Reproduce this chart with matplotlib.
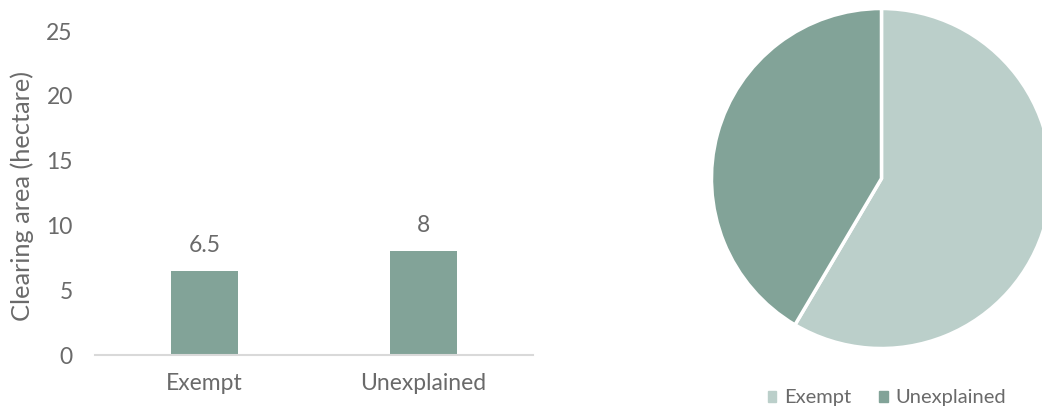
import matplotlib.pyplot as plt
from matplotlib.patches import Patch

plt.rcParams['font.family'] = ['Lato', 'DejaVu Sans']

# bar data: clearing area by category
categories = ['Exempt', 'Unexplained']
area_ha = [6.5, 8]

# pie data: share of clearing by category (percent)
pie_labels = ['Exempt', 'Unexplained']
pie_share = [58.5, 41.5]

text_color = '#6a6a6a'
bar_color = '#82A398'
pie_colors = ['#BBCFCA', '#82A398']

fig = plt.figure(figsize=(10.42, 4.09), dpi=100)

# left: bar chart
ax = fig.add_axes([0.0912, 0.132, 0.4203, 0.792])
x = range(len(categories))
bars = ax.bar(x, area_ha, width=0.31, color=bar_color, zorder=2)
for xi, v in zip(x, area_ha):
    ax.annotate(f'{v:g}', (xi, v), xytext=(0, 11), textcoords='offset points',
                ha='center', va='bottom', fontsize=16.5, color=text_color)

ax.set_xlim(-0.5, 1.5)
ax.set_ylim(0, 25)
ax.set_yticks([0, 5, 10, 15, 20, 25])
ax.set_xticks(list(x))
ax.set_xticklabels(categories)
ax.tick_params(axis='both', length=0, labelsize=16.5, labelcolor=text_color)
ax.tick_params(axis='y', pad=16)
ax.tick_params(axis='x', pad=13)
for side in ['top', 'right', 'left']:
    ax.spines[side].set_visible(False)
ax.spines['bottom'].set_color('#D9D9D9')
ax.spines['bottom'].set_linewidth(1.5)
fig.text(0.021, 0.52, 'Clearing area (hectare)', rotation=90,
         ha='center', va='center', fontsize=18.3, color=text_color)

# right: pie chart
pax = fig.add_axes([0.6828, 0.1479, 0.3263, 0.8313])
pax.pie(pie_share, colors=pie_colors, startangle=90, counterclock=False,
        radius=1, wedgeprops=dict(edgecolor='white', linewidth=2.5))
pax.set_xlim(-1.0, 1.0)
pax.set_ylim(-1.0, 1.0)
pax.set_aspect('equal')
pax.axis('off')

handles = [Patch(color=c, label=l) for c, l in zip(pie_colors, pie_labels)]
leg = fig.legend(handles=handles, loc='center', bbox_to_anchor=(887 / 1042, 1 - 398 / 409),
                 ncol=2, frameon=False, fontsize=14.5, handlelength=0.42, handleheight=0.42,
                 handletextpad=0.4, columnspacing=1.4)
for t in leg.get_texts():
    t.set_color(text_color)

fig.savefig('out.png', dpi=100)
